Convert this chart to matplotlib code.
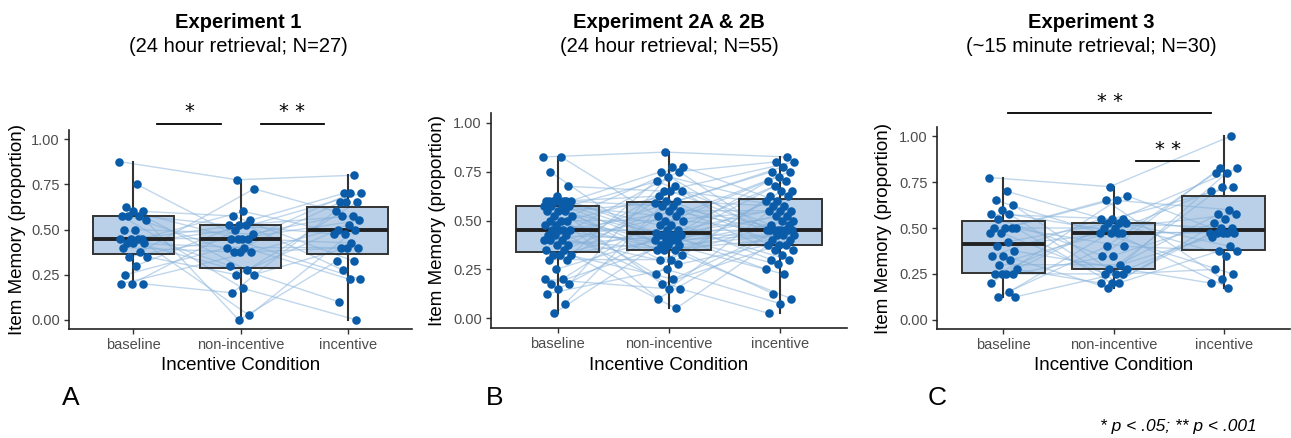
import matplotlib
matplotlib.use("Agg")
import matplotlib.pyplot as plt
import numpy as np

plt.rcParams["font.family"] = ["Liberation Sans", "DejaVu Sans"]

conditions = ["baseline", "non-incentive", "incentive"]

# Experiment 1 (N=27)
exp1_baseline = [0.875, 0.75, 0.625, 0.60, 0.60, 0.575, 0.575, 0.575, 0.55, 0.50, 0.50,
                 0.45, 0.45, 0.45, 0.45, 0.425, 0.425, 0.425, 0.40, 0.375, 0.35, 0.35,
                 0.30, 0.25, 0.20, 0.20, 0.20]
exp1_nonincentive = [0.775, 0.725, 0.60, 0.575, 0.55, 0.525, 0.525, 0.525, 0.50, 0.475,
                     0.45, 0.45, 0.45, 0.45, 0.40, 0.40, 0.375, 0.375, 0.375, 0.30, 0.275,
                     0.25, 0.25, 0.175, 0.15, 0.025, 0.0]
exp1_incentive = [0.80, 0.70, 0.70, 0.70, 0.65, 0.65, 0.65, 0.60, 0.575, 0.575, 0.55,
                  0.525, 0.50, 0.50, 0.475, 0.475, 0.425, 0.40, 0.40, 0.40, 0.325, 0.325,
                  0.275, 0.225, 0.225, 0.10, 0.0]

# Experiment 2A & 2B (N=55)
exp2_baseline = [0.825, 0.825, 0.75, 0.675, 0.625, 0.60, 0.60, 0.60, 0.60, 0.60, 0.60,
                 0.60, 0.60, 0.575, 0.575, 0.575, 0.575, 0.55, 0.55, 0.55, 0.525, 0.525,
                 0.50, 0.50, 0.50, 0.475, 0.475, 0.45, 0.45, 0.45, 0.45, 0.425, 0.425,
                 0.425, 0.40, 0.40, 0.40, 0.375, 0.375, 0.35, 0.35, 0.325, 0.325, 0.325,
                 0.30, 0.30, 0.25, 0.20, 0.20, 0.175, 0.175, 0.15, 0.125, 0.075, 0.025]
exp2_nonincentive = [0.85, 0.775, 0.775, 0.75, 0.75, 0.725, 0.70, 0.675, 0.65, 0.65,
                     0.65, 0.625, 0.60, 0.60, 0.5875, 0.575, 0.575, 0.55, 0.55, 0.525,
                     0.525, 0.50, 0.50, 0.475, 0.475, 0.45, 0.45, 0.4375, 0.425, 0.425,
                     0.425, 0.425, 0.425, 0.40, 0.40, 0.40, 0.40, 0.375, 0.375, 0.375,
                     0.35, 0.35, 0.35, 0.325, 0.30, 0.30, 0.275, 0.25, 0.225, 0.20, 0.175,
                     0.15, 0.15, 0.10, 0.05]
exp2_incentive = [0.825, 0.80, 0.80, 0.775, 0.75, 0.75, 0.725, 0.70, 0.70, 0.675, 0.65,
                  0.65, 0.625, 0.625, 0.60, 0.60, 0.575, 0.575, 0.55, 0.55, 0.55, 0.525,
                  0.525, 0.50, 0.50, 0.475, 0.475, 0.45, 0.45, 0.45, 0.45, 0.45, 0.45,
                  0.45, 0.45, 0.425, 0.425, 0.425, 0.40, 0.40, 0.375, 0.375, 0.375, 0.35,
                  0.35, 0.325, 0.30, 0.30, 0.275, 0.25, 0.225, 0.125, 0.10, 0.075, 0.025]

# Experiment 3 (N=30)
exp3_baseline = [0.775, 0.70, 0.65, 0.625, 0.60, 0.575, 0.575, 0.55, 0.50, 0.50, 0.50,
                 0.50, 0.475, 0.475, 0.425, 0.40, 0.375, 0.35, 0.35, 0.325, 0.30, 0.275,
                 0.25, 0.25, 0.25, 0.25, 0.20, 0.15, 0.125, 0.125]
exp3_nonincentive = [0.725, 0.675, 0.65, 0.65, 0.55, 0.55, 0.55, 0.525, 0.525, 0.525,
                     0.50, 0.50, 0.475, 0.475, 0.475, 0.475, 0.40, 0.40, 0.35, 0.35, 0.30,
                     0.275, 0.275, 0.25, 0.25, 0.25, 0.20, 0.20, 0.20, 0.175]
exp3_incentive = [1.0, 0.825, 0.825, 0.80, 0.80, 0.725, 0.725, 0.70, 0.60, 0.575, 0.575,
                  0.55, 0.525, 0.50, 0.50, 0.475, 0.475, 0.475, 0.475, 0.475, 0.45, 0.40,
                  0.375, 0.375, 0.35, 0.275, 0.25, 0.225, 0.20, 0.175]

titles = ["Experiment 1", "Experiment 2A & 2B", "Experiment 3"]
subtitles = ["(24 hour retrieval; N=27)", "(24 hour retrieval; N=55)",
             "(~15 minute retrieval; N=30)"]
panel_letters = ["A", "B", "C"]

# significance brackets: (x start, x end, y, label)
exp1_sig = [(1.22, 1.82, 1.085, "*"), (2.19, 2.78, 1.085, "**")]
exp2_sig = []
exp3_sig = [(1.045, 2.886, 1.124, "**"), (2.207, 2.774, 0.863, "**")]

experiments = [
    (exp1_baseline, exp1_nonincentive, exp1_incentive),
    (exp2_baseline, exp2_nonincentive, exp2_incentive),
    (exp3_baseline, exp3_nonincentive, exp3_incentive),
]
sigs = [exp1_sig, exp2_sig, exp3_sig]
# subject pairing is not readable from the picture, so the sorted lists
# are interleaved with a fixed stride
strides = [(10, 16), (21, 19), (7, 13)]

W, H = 1291, 438
# axes boxes in pixels: left, right, top, bottom
ax_px = [(69, 412, 130, 329), (491, 847, 113, 328), (937, 1290, 127, 329)]
title_x = [238, 669, 1091]
ylabel_x = [18, 438, 884]
letter_x = [71, 495, 937]

point_color = "#0B5CA8"
line_color = "#8DB6DC"
dark = "#333333"

fig = plt.figure(figsize=(W / 100, H / 100), dpi=100)

for k, (data, sig) in enumerate(zip(experiments, sigs)):
    l, r, t, b = ax_px[k]
    ax = fig.add_axes([l / W, 1 - b / H, (r - l) / W, (b - t) / H])
    n = len(data[0])
    idx = np.arange(n)
    orders = [idx, (idx * strides[k][0]) % n, (idx * strides[k][1]) % n]
    vals = [np.array(data[c])[orders[c]] for c in range(3)]
    # deterministic jitter offsets, tied to each value's rank
    xs = [c + 1 + 0.13 * (2 * ((orders[c] * 0.6180339 + 0.37 * c) % 1) - 1)
          for c in range(3)]

    for i in range(n):
        ax.plot([xs[0][i], xs[1][i], xs[2][i]], [vals[0][i], vals[1][i], vals[2][i]],
                color=line_color, alpha=0.55, lw=1.0, zorder=1)

    bp = ax.boxplot(data, positions=[1, 2, 3], widths=0.75, patch_artist=True,
                    showcaps=False, showfliers=False, whis=1.5, zorder=2)
    for patch in bp["boxes"]:
        patch.set_facecolor((0.50, 0.67, 0.84, 0.55))
        patch.set_edgecolor(dark)
        patch.set_linewidth(1.4)
    for w in bp["whiskers"]:
        w.set_color(dark)
        w.set_linewidth(1.5)
    for m in bp["medians"]:
        m.set_color("#222222")
        m.set_linewidth(2.8)

    for c in range(3):
        ax.scatter(xs[c], vals[c], s=38, color=point_color, zorder=3, linewidths=0)

    ax.set_xlim(0.4, 3.6)
    ax.set_ylim(-0.05, 1.05)
    ax.set_yticks([0, 0.25, 0.5, 0.75, 1.0])
    ax.set_yticklabels(["0.00", "0.25", "0.50", "0.75", "1.00"])
    ax.set_xticks([1, 2, 3])
    ax.set_xticklabels(conditions)
    ax.tick_params(labelsize=10.5, labelcolor="#4D4D4D", color=dark, length=3.5,
                   width=1.0, pad=3)
    for s in ["top", "right"]:
        ax.spines[s].set_visible(False)
    for s in ["left", "bottom"]:
        ax.spines[s].set_linewidth(1.2)
        ax.spines[s].set_color("#222222")

    for x0, x1, y, lab in sig:
        ax.plot([x0, x1], [y, y], color="black", lw=1.3, clip_on=False)
        ax.text((x0 + x1) / 2, y + 0.012, " ".join(lab), ha="center", va="bottom",
                fontsize=14, family="DejaVu Sans", clip_on=False)

    cx = (l + r) / 2
    fig.text(cx / W, 1 - 365 / H, "Incentive Condition", ha="center", va="center",
             fontsize=13.5)
    fig.text(ylabel_x[k] / W, 1 - ((t + b) / 2) / H, "Item Memory (proportion)",
             rotation=90, ha="center", va="center", fontsize=13.5)
    fig.text(title_x[k] / W, 1 - 22 / H, titles[k], ha="center", va="center",
             fontsize=14.5, fontweight="bold")
    fig.text(title_x[k] / W, 1 - 46.5 / H, subtitles[k], ha="center", va="center",
             fontsize=14.5)
    fig.text(letter_x[k] / W, 1 - 398 / H, panel_letters[k], ha="center", va="center",
             fontsize=19)

fig.text(1257 / W, 1 - 427 / H, "* p < .05; ** p < .001", ha="right", va="center",
         fontsize=12.5, style="italic")

fig.savefig("out.png", dpi=100)
